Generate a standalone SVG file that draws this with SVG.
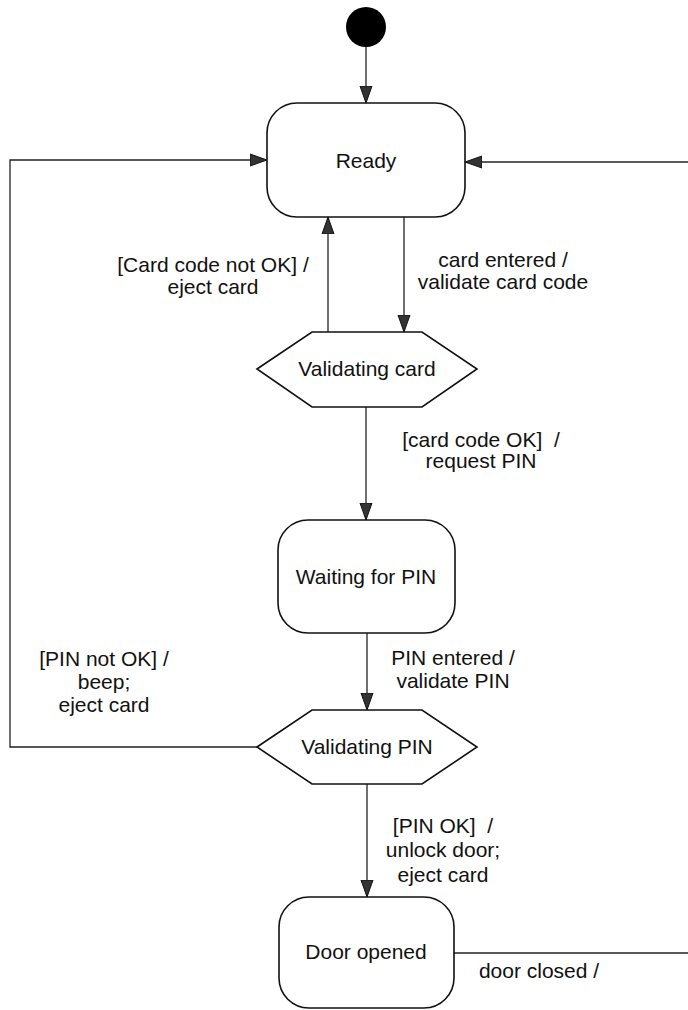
<svg xmlns="http://www.w3.org/2000/svg" width="688" height="1010" viewBox="0 0 688 1010">
<style>
.st{fill:#fff;stroke:#111;stroke-width:1.6}
.t{font-family:"Liberation Sans",Arial,sans-serif;font-size:21px;fill:#111;text-anchor:middle}
.c{fill:none;stroke:#222;stroke-width:1.3}
</style>
<defs>
<marker id="ah" markerWidth="18" markerHeight="14" refX="17" refY="7" orient="auto" markerUnits="userSpaceOnUse">
<path d="M0,1 L17,7 L0,13 z" fill="#333" stroke="#111" stroke-width="1"/>
</marker>
</defs>
<rect width="688" height="1010" fill="#fff"/>
<g id="connectors">
<line class="c" x1="366" y1="47" x2="366" y2="103" marker-end="url(#ah)"/>
<line class="c" x1="328" y1="332" x2="328" y2="217" marker-end="url(#ah)"/>
<line class="c" x1="404" y1="217" x2="404" y2="332" marker-end="url(#ah)"/>
<line class="c" x1="366" y1="407" x2="366" y2="520" marker-end="url(#ah)"/>
<line class="c" x1="367" y1="633" x2="367" y2="710" marker-end="url(#ah)"/>
<line class="c" x1="367" y1="784" x2="367" y2="897" marker-end="url(#ah)"/>
<polyline class="c" points="257,747 10,747 10,160 267,160" marker-end="url(#ah)"/>
<line class="c" x1="688" y1="162" x2="465" y2="162" marker-end="url(#ah)"/>
<line class="c" x1="454" y1="953" x2="688" y2="953"/>
<text class="t" x="213" y="272">[Card code not OK] /</text>
<text class="t" x="213" y="294">eject card</text>
<text class="t" x="503" y="267">card entered /</text>
<text class="t" x="503" y="289">validate card code</text>
<text class="t" x="481" y="447" xml:space="preserve">[card code OK]  /</text>
<text class="t" x="481" y="468">request PIN</text>
<text class="t" x="453" y="665">PIN entered /</text>
<text class="t" x="453" y="688">validate PIN</text>
<text class="t" x="104" y="666">[PIN not OK] /</text>
<text class="t" x="104" y="689">beep;</text>
<text class="t" x="104" y="712">eject card</text>
<text class="t" x="443" y="833" xml:space="preserve">[PIN OK]  /</text>
<text class="t" x="443" y="857">unlock door;</text>
<text class="t" x="443" y="882">eject card</text>
<text class="t" x="539" y="978">door closed /</text>
</g>
<g id="initial">
<circle cx="366" cy="27" r="20" fill="#000"/>
</g>
<g id="ready">
<rect class="st" x="267" y="103" width="198" height="114" rx="30"/>
<text class="t" x="366" y="168">Ready</text>
</g>
<g id="validating-card">
<polygon class="st" points="257,369 312,332 422,332 477,369 422,407 312,407"/>
<text class="t" x="367" y="376">Validating card</text>
</g>
<g id="waiting-pin">
<rect class="st" x="278" y="520" width="177" height="113" rx="30"/>
<text class="t" x="366" y="584">Waiting for PIN</text>
</g>
<g id="validating-pin">
<polygon class="st" points="257,747 312,710 422,710 477,747 422,784 312,784"/>
<text class="t" x="367" y="754">Validating PIN</text>
</g>
<g id="door-opened">
<rect class="st" x="279" y="897" width="175" height="111" rx="30"/>
<text class="t" x="366" y="959">Door opened</text>
</g>
</svg>
